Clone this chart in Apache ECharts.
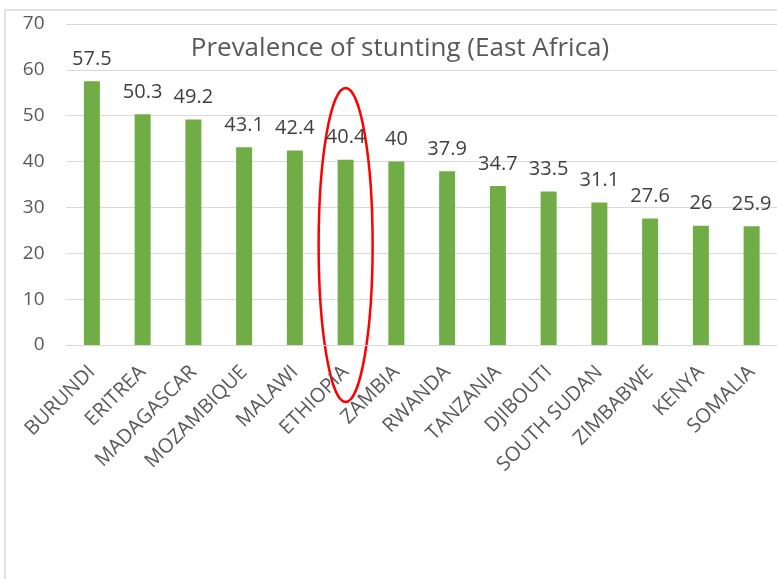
<!DOCTYPE html>
<html><head><meta charset="utf-8">
<script src="https://cdn.jsdelivr.net/npm/echarts@6/dist/echarts.min.js"></script>
<style>html,body{margin:0;padding:0;background:#fff}#c{width:777px;height:579px}</style>
</head><body><div id="c"></div>
<script>
var categories = ['BURUNDI','ERITREA','MADAGASCAR','MOZAMBIQUE','MALAWI','ETHIOPIA','ZAMBIA','RWANDA','TANZANIA','DJIBOUTI','SOUTH SUDAN','ZIMBABWE','KENYA','SOMALIA'];
var stunting = [57.5, 50.3, 49.2, 43.1, 42.4, 40.4, 40, 37.9, 34.7, 33.5, 31.1, 27.6, 26, 25.9];
var titleText = 'Prevalence of stunting (East Africa)';
var highlight = 'ETHIOPIA';
var FONT = '"Open Sans", sans-serif';
var chart = echarts.init(document.getElementById('c'), null, {renderer:'canvas'});
chart.setOption({
  animation:false,
  title:{text:titleText, left:395, top:31, textAlign:'center',
    textStyle:{fontFamily:FONT, fontSize:26, fontWeight:'normal', color:'#595959'}},
  grid:{left:66.5, top:24, width:714, height:321, containLabel:false},
  xAxis:{type:'category', data:categories,
    axisLine:{lineStyle:{color:'#d9d9d9', width:1}}, axisTick:{show:false},
    axisLabel:{rotate:45, interval:0, margin:24, fontFamily:FONT, fontSize:20, color:'#595959'}},
  yAxis:{type:'value', min:0, max:70, interval:10,
    axisLine:{show:false}, axisTick:{show:false},
    splitLine:{lineStyle:{color:'#d9d9d9', width:1}},
    axisLabel:{margin:22, fontFamily:FONT, fontSize:19, color:'#595959'}},
  series:[{type:'bar', data:stunting, barWidth:16, itemStyle:{color:'#70ad47'},
    label:{show:true, position:'top', distance:12, fontFamily:FONT, fontSize:20, color:'#404040'}}]
});
var cx = chart.convertToPixel({xAxisIndex:0}, highlight);
chart.setOption({graphic:[
  {type:'polyline', shape:{points:[[5,579],[5,10],[777,10]]}, style:{fill:null, stroke:'#d9d9d9', lineWidth:1.5}, silent:true},
  {type:'ellipse', shape:{cx:cx, cy:245, rx:27, ry:157}, style:{fill:null, stroke:'#ff0000', lineWidth:2.5}, silent:true}
]});
</script></body></html>
